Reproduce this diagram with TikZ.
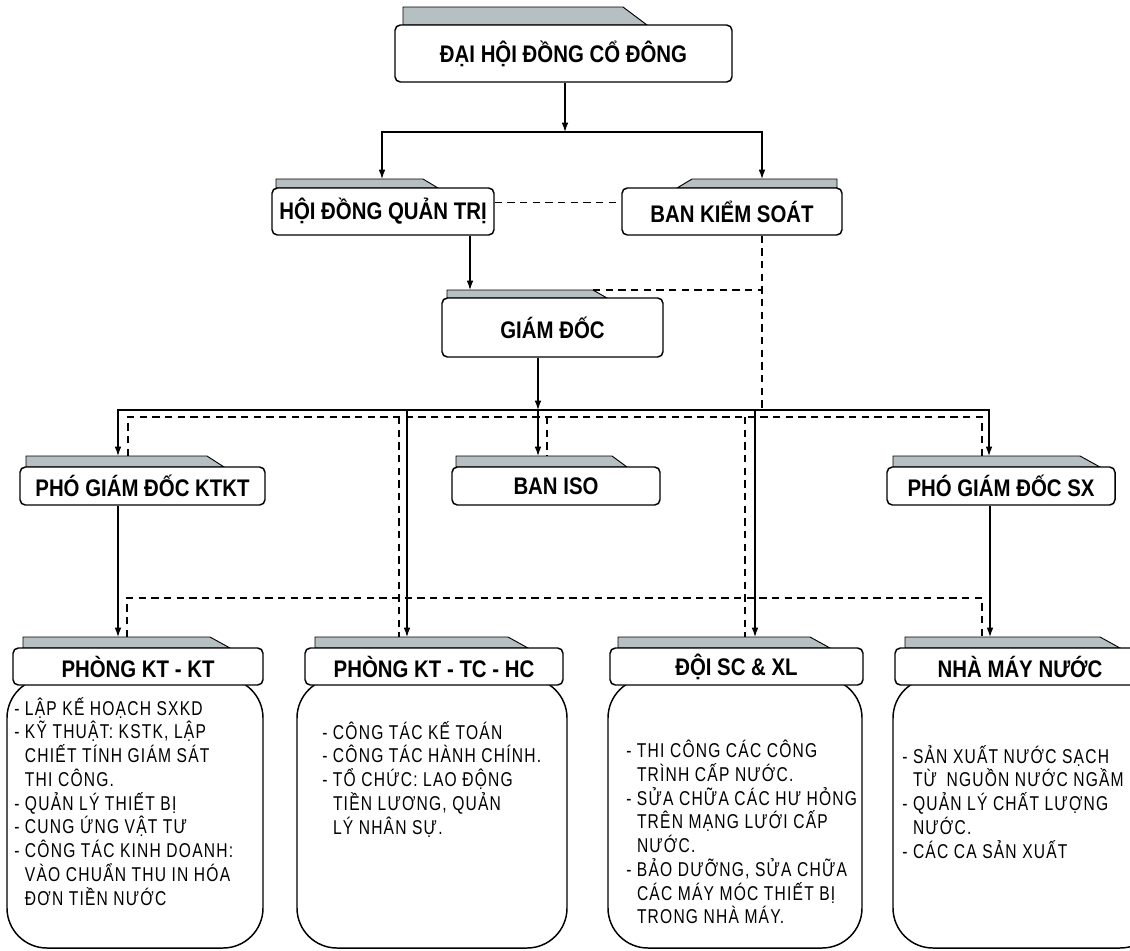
\documentclass[tikz,border=0pt]{standalone}
\usepackage{fontspec}
\setmainfont{Liberation Sans}
\newfontfamily\hdfont[FakeStretch=0.85]{Liberation Sans}
\newfontfamily\bdfont[FakeStretch=0.78,LetterSpace=6]{Liberation Sans}
\usetikzlibrary{arrows.meta}
\definecolor{tabfill}{RGB}{182,191,193}
\newcommand{\ind}{\phantom{- }}

\begin{document}
\begin{tikzpicture}[x=0.75pt,y=-0.75pt,
  headbox/.style={draw, line width=1.1pt, rounded corners=4pt, fill=white, inner sep=0pt, font=\hdfont\bfseries\fontsize{18pt}{20pt}\selectfont},
  bodybox/.style={draw, line width=1.1pt, rounded corners=30pt, fill=white},
  tabshape/.style={draw, line width=0.7pt, fill=tabfill},
  arr/.style={line width=0.9pt, -{Latex[length=7pt,width=5pt]}},
  dsh/.style={line width=0.9pt, dash pattern=on 5.5pt off 4pt},
  bodytext/.style={anchor=north west, inner sep=0pt, align=left, font=\bdfont\fontsize{15pt}{17.8pt}\selectfont}]
\useasboundingbox (0,0) rectangle (1130,950);
\clip (0,0) rectangle (1130,950);

% bodies of the lower boxes
\draw[bodybox] (7,678) rectangle (263,948);
\draw[bodybox] (297,678) rectangle (567,948);
\draw[bodybox] (608,678) rectangle (862,948);
\draw[bodybox] (893,678) rectangle (1160,948);

% tabs
\draw[tabshape] (403,25) -- (403,7) -- (623,7) -- (647,25) -- cycle;
\draw[tabshape] (276,188) -- (276,179) -- (423,179) -- (438,188) -- cycle;
\draw[tabshape] (677,188) -- (692,179) -- (837,179) -- (837,188) -- cycle;
\draw[tabshape] (447,298) -- (447,290) -- (593,290) -- (607,298) -- cycle;
\draw[tabshape] (26,467) -- (26,456) -- (207,456) -- (224,467) -- cycle;
\draw[tabshape] (456,467) -- (456,456) -- (612,456) -- (627,467) -- cycle;
\draw[tabshape] (893,467) -- (893,456) -- (1080,456) -- (1100,467) -- cycle;
\draw[tabshape] (23,648) -- (23,637) -- (210,637) -- (230,648) -- cycle;
\draw[tabshape] (315,648) -- (315,637) -- (508,637) -- (528,648) -- cycle;
\draw[tabshape] (618,648) -- (618,637) -- (810,637) -- (830,648) -- cycle;
\draw[tabshape] (905,648) -- (905,637) -- (1100,637) -- (1120,648) -- cycle;

% boxes
\node[headbox, minimum width=252.75pt, minimum height=42.75pt] (dhd) at (563.5,53.5) {ĐẠI HỘI ĐỒNG CỔ ĐÔNG};
\node[headbox, minimum width=166.5pt, minimum height=35.25pt] (hdqt) at (383,211.5) {HỘI ĐỒNG QUẢN TRỊ};
\node[headbox, minimum width=165pt, minimum height=35.25pt] (bks) at (732,211.5) {BAN KIỂM SOÁT};
\node[headbox, minimum width=165.75pt, minimum height=44.25pt] (gd) at (552.5,327.5) {GIÁM ĐỐC};
\node[headbox, minimum width=183.75pt, minimum height=28.5pt] (pkt) at (142.5,486) {PHÓ GIÁM ĐỐC KTKT};
\node[headbox, minimum width=156pt, minimum height=28.5pt] (iso) at (556,486) {BAN ISO};
\node[headbox, minimum width=171pt, minimum height=28.5pt] (psx) at (1001,486) {PHÓ GIÁM ĐỐC SX};
\node[headbox, minimum width=187.5pt, minimum height=27.75pt] (p1) at (138,666.5) {PHÒNG KT - KT};
\node[headbox, minimum width=193.5pt, minimum height=27.75pt] (p2) at (434,666.5) {PHÒNG KT - TC - HC};
\node[headbox, minimum width=189.75pt, minimum height=27.75pt] (p3) at (736.5,666.5) {ĐỘI SC \& XL};
\node[headbox, minimum width=187.5pt, minimum height=27.75pt] (p4) at (1020,666.5) {NHÀ MÁY NƯỚC};

% texts of the lower boxes
\node[bodytext] (t1) at (14,697) {- LẬP KẾ HOẠCH SXKD\\
- KỸ THUẬT: KSTK, LẬP\\
\ind CHIẾT TÍNH GIÁM SÁT\\
\ind THI CÔNG.\\
- QUẢN LÝ THIẾT BỊ\\
- CUNG ỨNG VẬT TƯ\\
- CÔNG TÁC KINH DOANH:\\
\ind VÀO CHUẨN THU IN HÓA\\
\ind ĐƠN TIỀN NƯỚC};
\node[bodytext] (t2) at (322,721) {- CÔNG TÁC KẾ TOÁN\\
- CÔNG TÁC HÀNH CHÍNH.\\
- TỔ CHỨC: LAO ĐỘNG\\
\ind TIỀN LƯƠNG, QUẢN\\
\ind LÝ NHÂN SỰ.};
\node[bodytext] (t3) at (626,740) {- THI CÔNG CÁC CÔNG\\
\ind TRÌNH CẤP NƯỚC.\\
- SỬA CHỮA CÁC HƯ HỎNG\\
\ind TRÊN MẠNG LƯỚI CẤP\\
\ind NƯỚC.\\
- BẢO DƯỠNG, SỬA CHỮA\\
\ind CÁC MÁY MÓC THIẾT BỊ\\
\ind TRONG NHÀ MÁY.};
\node[bodytext] (t4) at (902,745) {- SẢN XUẤT NƯỚC SẠCH\\
\ind TỪ\kern3pt\ NGUỒN NƯỚC NGẦM\\
- QUẢN LÝ CHẤT LƯỢNG\\
\ind NƯỚC.\\
- CÁC CA SẢN XUẤT};

% junctions and tab tops
\coordinate (b1) at (565,132);
\coordinate (b2) at (538,410);
\coordinate (k1) at (762,290);
\coordinate (d2) at (982,417);
\coordinate (d3) at (982,598);
\coordinate (hdqt-in) at (382,179);
\coordinate (bks-in) at (762,179);
\coordinate (gd-in) at (470,290);
\coordinate (gd-tr) at (593,290);
\coordinate (pkt-in) at (118,456);
\coordinate (pkt-dn) at (128,456);
\coordinate (iso-in) at (538,456);
\coordinate (iso-dn) at (547,456);
\coordinate (psx-in) at (989,456);
\coordinate (psx-dn) at (982,456);
\coordinate (p1-in) at (118,637);
\coordinate (p1-dn) at (127,637);
\coordinate (p2-in) at (407,637);
\coordinate (p2-dn) at (399,637);
\coordinate (p3-in) at (755,637);
\coordinate (p3-dn) at (745,637);
\coordinate (p4-in) at (990,637);
\coordinate (p4-dn) at (982,637);

% solid lines
\draw[arr] (dhd.south -| b1) -- (b1);
\draw[arr] (b1) -| (hdqt-in);
\draw[arr] (b1) -| (bks-in);
\draw[arr] (hdqt.south -| gd-in) -- (gd-in);
\draw[arr] (gd.south -| b2) -- (b2);
\draw[arr] (b2) -| (pkt-in);
\draw[arr] (b2) -| (psx-in);
\draw[arr] (b2) -- (iso-in);
\draw[arr] (b2 -| p2-in) -- (p2-in);
\draw[arr] (b2 -| p3-in) -- (p3-in);
\draw[arr] (pkt.south -| p1-in) -- (p1-in);
\draw[arr] (psx.south -| p4-in) -- (p4-in);

% dashed lines
\draw[dsh] ([yshift=7pt]hdqt.east) -- ([yshift=7pt]bks.west);
\draw[dsh] (bks.south -| k1) -- (k1 |- b2);
\draw[dsh] (gd-tr) -- (k1);
\draw[dsh] (pkt-dn) |- (d2) -- (psx-dn);
\draw[dsh] (iso-dn |- d2) -- (iso-dn);
\draw[dsh] (p2-dn |- d2) -- (p2-dn);
\draw[dsh] (p3-dn |- d2) -- (p3-dn);
\draw[dsh] (p1-dn) |- (d3) -- (p4-dn);
\end{tikzpicture}
\end{document}
